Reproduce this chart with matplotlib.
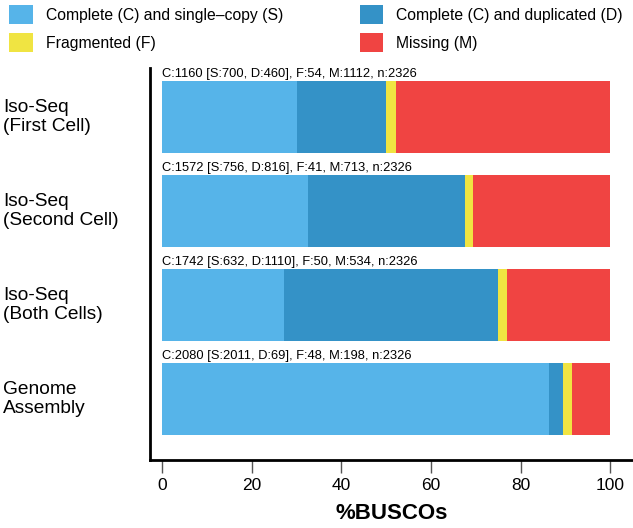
import matplotlib
matplotlib.use("Agg")
import matplotlib.pyplot as plt
from matplotlib.patches import Patch

plt.rcParams['font.family'] = ['Liberation Sans', 'DejaVu Sans']

labels = ["Iso-Seq\n(First Cell)", "Iso-Seq\n(Second Cell)", "Iso-Seq\n(Both Cells)", "Genome\nAssembly"]
S = [700, 756, 632, 2011]
D = [460, 816, 1110, 69]
F = [54, 41, 50, 48]
M = [1112, 713, 534, 198]
N = [2326, 2326, 2326, 2326]
series_names = ["Complete (C) and single\u2013copy (S)", "Complete (C) and duplicated (D)",
                "Fragmented (F)", "Missing (M)"]
colors = ["#56B4E9", "#3492C7", "#F0E442", "#F04442"]
xticks = [0, 20, 40, 60, 80, 100]

fig = plt.figure(figsize=(6.33, 5.28), dpi=100)
ax = fig.add_axes([150/633, 1-460/528, 1-150/633, (460-68)/528])

ypos = [3, 2, 1, 0]
for i in range(len(labels)):
    vals = [S[i], D[i], F[i], M[i]]
    left = 0.0
    for v, c in zip(vals, colors):
        w = v / N[i] * 100
        ax.barh(ypos[i], w, left=left, height=0.77, color=c, linewidth=0)
        left += w
    txt = f"C:{S[i]+D[i]} [S:{S[i]}, D:{D[i]}], F:{F[i]}, M:{M[i]}, n:{N[i]}"
    ax.text(0, ypos[i] + 0.77/2 + 0.01, txt, fontsize=9.3, va='bottom', ha='left')

ax.set_xlim(-2.7, 105.1)
ax.set_ylim(-0.65, 3.52)
ax.set_yticks(ypos)
ax.set_yticklabels([])
for i, lab in enumerate(labels):
    ax.text(3/633, (ax.transData.transform((0, ypos[i]))[1]) / 528, lab,
            transform=fig.transFigure, fontsize=13.8, ha='left', va='center', linespacing=1.2)
ax.tick_params(axis='y', length=0)
ax.set_xticks(xticks)
ax.set_xticklabels([str(t) for t in xticks], fontsize=12.5)
ax.tick_params(axis='x', direction='out', length=9.5, width=1, color='#555555', pad=3.5)
for s in ['top', 'right']:
    ax.spines[s].set_visible(False)
ax.spines['left'].set_linewidth(2)
ax.spines['bottom'].set_linewidth(2)
ax.set_xlabel("%BUSCOs", fontsize=16, fontweight='bold', labelpad=7)

handles = [Patch(facecolor=c, edgecolor='none') for c in colors]
order = [0, 2, 1, 3]
fig.legend([handles[k] for k in order], [series_names[k] for k in order],
           loc='upper left', bbox_to_anchor=(0.0, 1.008), ncol=2, frameon=False,
           fontsize=11.3, handlelength=1.5, handleheight=1.5, columnspacing=4.9,
           labelspacing=0.55, handletextpad=0.8, borderpad=0.1)

fig.savefig("out.png", dpi=100)
